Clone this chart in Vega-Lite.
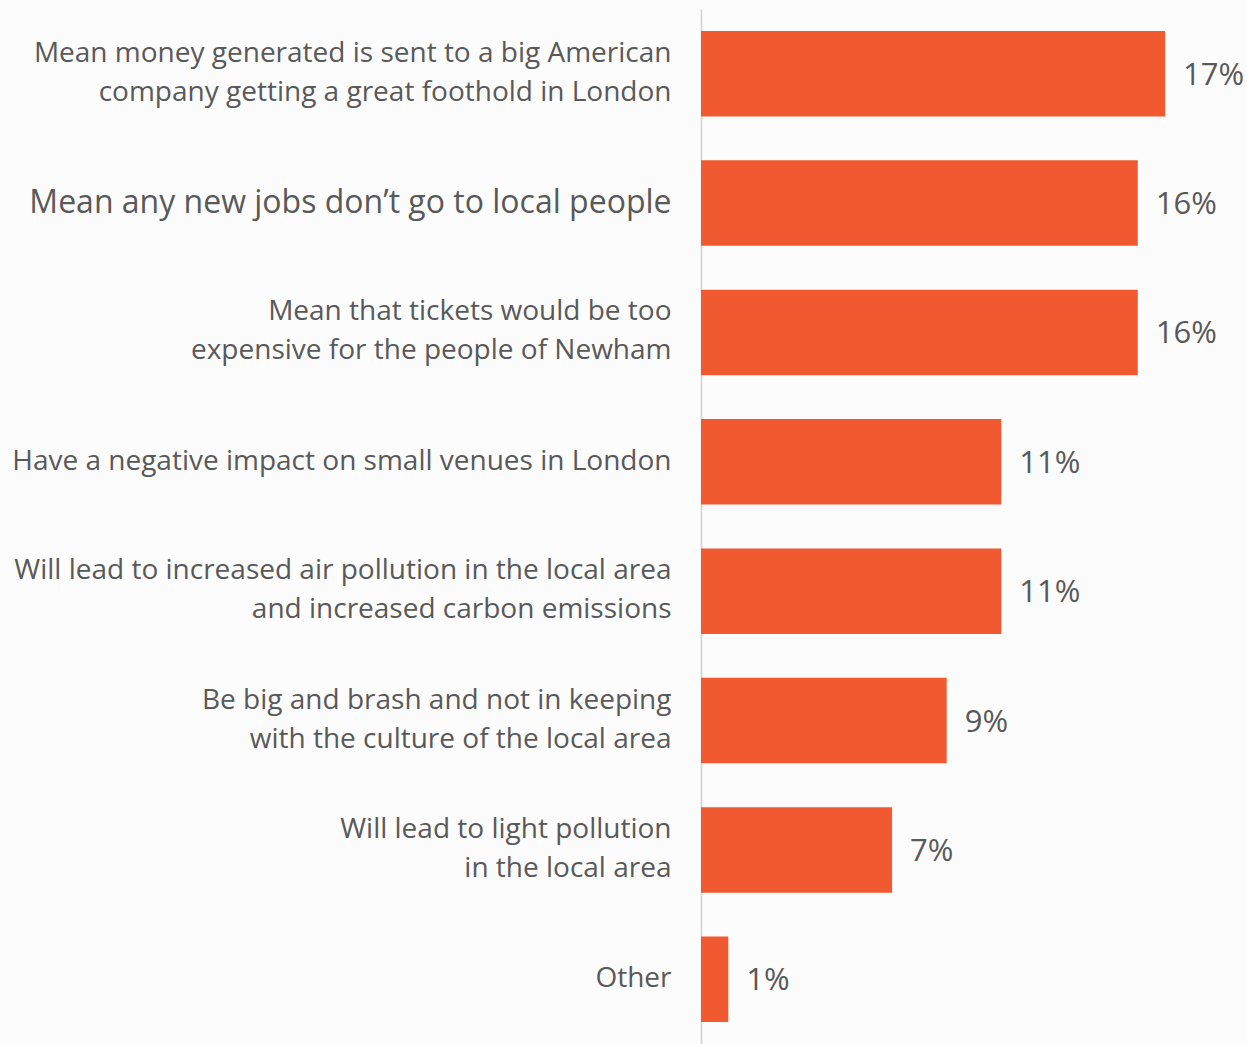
{
  "$schema": "https://vega.github.io/schema/vega-lite/v6.json",
  "width": 546,
  "height": 1035,
  "autosize": {"type": "none"},
  "padding": {"left": 701, "top": 9, "right": 0, "bottom": 0},
  "background": "#fcfcfc",
  "config": {"view": {"stroke": null}, "font": "Open Sans"},
  "data": {
    "values": [
      {"reason": "Mean money generated is sent to a big American\ncompany getting a great foothold in London", "share": 0.17},
      {"reason": "Mean any new jobs don’t go to local people", "share": 0.16},
      {"reason": "Mean that tickets would be too\nexpensive for the people of Newham", "share": 0.16},
      {"reason": "Have a negative impact on small venues in London", "share": 0.11},
      {"reason": "Will lead to increased air pollution in the local area\nand increased carbon emissions", "share": 0.11},
      {"reason": "Be big and brash and not in keeping\nwith the culture of the local area", "share": 0.09},
      {"reason": "Will lead to light pollution\nin the local area", "share": 0.07},
      {"reason": "Other", "share": 0.01}
    ]
  },
  "encoding": {
    "y": {
      "field": "reason",
      "type": "nominal",
      "sort": null,
      "scale": {"paddingInner": 0.34, "paddingOuter": 0.17},
      "axis": {
        "title": null,
        "ticks": false,
        "domainColor": "#d0d0d0",
        "domainWidth": 1.5,
        "labelExpr": "split(datum.value, '\\n')",
        "labelFont": "Open Sans",
        "labelFontSize": {"condition": {"test": "indexof(datum.value, 'new jobs') >= 0", "value": 32}, "value": 28},
        "labelOffset": {"condition": {"test": "indexof(datum.value, '\\n') >= 0", "value": -20}, "value": 0},
        "labelColor": "#595959",
        "labelLineHeight": 39,
        "labelPadding": 30,
        "labelAlign": "right",
        "labelBaseline": "middle",
        "labelLimit": 700
      }
    },
    "x": {
      "field": "share",
      "type": "quantitative",
      "scale": {"domain": [0, 0.2]},
      "axis": null
    }
  },
  "layer": [
    {"mark": {"type": "bar", "color": "#F15A31"}},
    {
      "mark": {"type": "text", "align": "left", "baseline": "middle", "dx": 18, "dy": 2, "fontSize": 31, "color": "#595959", "font": "Open Sans"},
      "encoding": {"text": {"field": "share", "type": "quantitative", "format": ".0%"}}
    }
  ]
}
